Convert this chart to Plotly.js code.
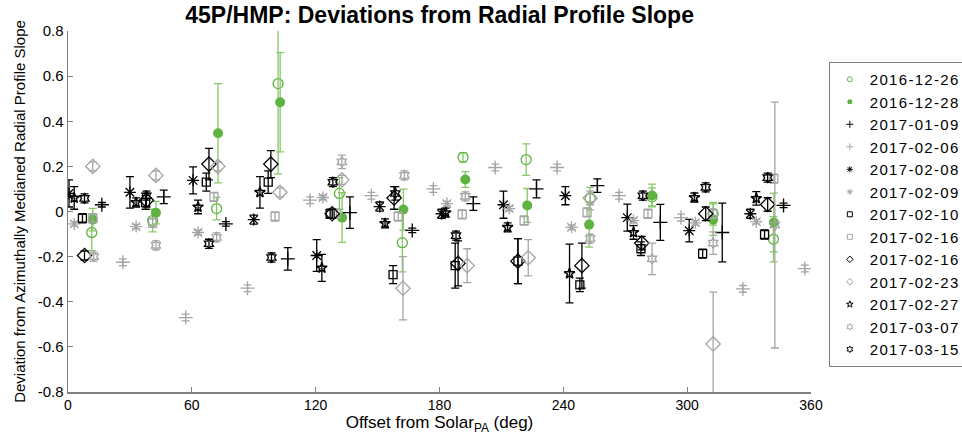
<!DOCTYPE html>
<html><head><meta charset="utf-8">
<script src="https://cdn.plot.ly/plotly-3.0.1.min.js"></script>
<style>html,body{margin:0;padding:0;background:#fff}#plot{width:962px;height:445px}
.legendtext{letter-spacing:1.3px}</style>
</head><body><div id="plot"></div>
<script>
// ---- data ----
const seriesNames = ["2016-12-26","2016-12-28","2017-01-09","2017-02-06","2017-02-08","2017-02-09","2017-02-10","2017-02-16","2017-02-16","2017-02-23","2017-02-27","2017-03-07","2017-03-15"];

const x_1226 = [11.5, 41, 72, 101.8, 131.5, 162, 191.4, 222, 253, 283, 312.6, 341.8];
const y_1226 = [-0.093, -0.04, 0.013, 0.567, 0.08, -0.138, 0.24, 0.23, 0.057, 0.065, -0.01, -0.123];
const e_1226 = [0.08, 0.05, 0.05, 0.40, 0.07, 0.13, 0.02, 0.07, 0.05, 0.04, 0.05, 0.10];

const x_1228 = [12, 42.6, 72.7, 102.8, 132.8, 162.5, 192.5, 222.5, 252.5, 283, 312.6, 342];
const y_1228 = [-0.036, -0.005, 0.347, 0.484, -0.027, 0.009, 0.142, 0.027, -0.058, 0.071, -0.036, -0.049];
const e_1228 = [0.05, 0.05, 0.22, 0.22, 0.11, 0.09, 0.035, 0.075, 0.10, 0.05, 0.07, 0.13];

const x_0109 = [16.4, 46.4, 76.5, 106.5, 136.6, 166.8, 196.4, 227, 256.5, 287, 317, 346.7];
const y_0109 = [0.03, 0.065, -0.055, -0.21, -0.005, -0.084, 0.035, 0.10, 0.115, -0.048, -0.093, 0.027];
const e_0109 = [0.01, 0.03, 0.01, 0.05, 0.07, 0.01, 0.03, 0.04, 0.03, 0.08, 0.13, 0.01];

const x_0206 = [26.6, 57, 87, 117.3, 147, 177, 207, 237, 267, 297, 327, 357];
const y_0206 = [-0.225, -0.47, -0.34, 0.05, 0.07, 0.10, 0.195, 0.195, 0.07, -0.027, -0.343, -0.253];
const e_0206 = [0.015, 0.015, 0.015, 0.015, 0.015, 0.015, 0.015, 0.015, 0.015, 0.015, 0.015, 0.015];

const x_0208 = [0.5, 30, 60.6, 90, 120.5, 151, 181, 211, 241, 271, 301, 330.6];
const y_0208 = [0.08, 0.085, 0.138, -0.036, -0.195, 0.022, -0.01, 0.03, 0.07, -0.027, -0.085, -0.01];
const e_0208 = [0.06, 0.07, 0.06, 0.02, 0.07, 0.02, 0.02, 0.06, 0.04, 0.06, 0.05, 0.02];

const x_0209 = [3, 33, 63, 93, 123.5, 153.5, 183.6, 213.8, 244, 274, 304, 333.5];
const y_0209 = [-0.055, -0.067, -0.093, null, 0.062, null, 0.035, 0.013, -0.07, -0.04, -0.05, -0.045];
const e_0209 = [0.01, 0.01, 0.01, 0.01, 0.01, 0.01, 0.01, 0.01, 0.01, 0.01, 0.01, 0.01];

const x_0210 = [7, 37.6, 67, 97, 127, 157.5, 187.6, 218, 248, 277.6, 307.5, 337.5];
const y_0210 = [-0.03, 0.04, 0.13, 0.13, -0.01, -0.28, -0.24, -0.22, -0.325, -0.165, -0.187, -0.102];
const e_0210 = [0.02, 0.03, 0.04, 0.05, 0.02, 0.04, 0.10, 0.10, 0.03, 0.03, 0.02, 0.02];

const x_0216g = [12, 41, 70.7, 100.3, 130, 160, 191, 221, 251.5, 281, 312.5, 342];
const y_0216g = [-0.03, -0.05, 0.065, -0.022, -0.01, -0.022, -0.013, -0.04, -0.004, -0.01, -0.01, 0.146];
const e_0216g = [0.02, 0.02, 0.02, 0.02, 0.02, 0.02, 0.02, 0.02, 0.02, 0.02, 0.02, 0.02];

const x_0216d = [8, 38, 68.3, 98.3, 128, 158, 189, 218, 249, 278, 309, 339];
const y_0216d = [-0.195, 0.05, 0.21, 0.21, -0.01, 0.06, -0.23, -0.22, -0.24, -0.14, -0.01, 0.031];
const e_0216d = [0.02, 0.03, 0.07, 0.06, 0.02, 0.05, 0.10, 0.10, 0.10, 0.03, 0.03, 0.03];

const x_0223 = [12, 42.6, 72.6, 102.7, 132.7, 162.3, 193.4, 223, 253, 283, 312.6, 342];
const y_0223 = [0.20, 0.16, 0.20, 0.085, 0.14, -0.34, -0.24, -0.205, 0.06, null, -0.587, null];
const e_0223 = [0.02, 0.02, 0.02, 0.02, 0.02, 0.14, 0.075, 0.08, 0.03, 0.02, 0.23, 0.02];

const x_0227 = [3, 33, 63, 93, 123, 153.6, 183, 213, 243, 274, 303.5, 333.5];
const y_0227 = [0.06, 0.04, 0.02, 0.085, -0.25, -0.053, -0.005, -0.07, -0.275, -0.093, 0.062, 0.058];
const e_0227 = [0.05, 0.02, 0.03, 0.07, 0.06, 0.02, 0.02, 0.02, 0.13, 0.03, 0.02, 0.03];

const x_0307 = [12.5, 42.6, 72, 102.7, 132.7, 163, 192.5, 223, 253, 283, 312.6, 342.5];
const y_0307 = [-0.20, -0.15, -0.115, null, 0.22, 0.16, 0.067, null, -0.12, -0.21, -0.14, -0.06];
const e_0307 = [0.02, 0.02, 0.02, 0.02, 0.03, 0.02, 0.02, 0.02, 0.02, 0.07, 0.05, 0.545];

const x_0315 = [8, 38, 68.3, 98.6, 128.3, 158.6, 188, 218, 248, 278.5, 309, 339];
const y_0315 = [0.058, 0.07, -0.143, -0.204, 0.13, 0.08, -0.107, null, null, 0.07, 0.107, 0.15];
const e_0315 = [0.02, 0.02, 0.02, 0.02, 0.02, 0.03, 0.02, 0.02, 0.02, 0.02, 0.02, 0.02];

const xTickVals = [0, 60, 120, 180, 240, 300, 360];
const yTickVals = [-0.8, -0.6, -0.4, -0.2, 0, 0.2, 0.4, 0.6, 0.8];
const yTickText = ["-0.8", "-0.6", "-0.4", "-0.2", "0", "0.2", "0.4", "0.6", "0.8"];

// ---- styles ----
const GREEN = "rgb(95,180,65)", GREEN_BAR = "rgb(135,200,105)";
const BLACK = "rgb(0,0,0)", GRAY = "rgb(165,165,165)";

const specs = [
  [x_1226, y_1226, e_1226, "circle-open", GREEN, GREEN_BAR, 10, 1.3],
  [x_1228, y_1228, e_1228, "circle", GREEN, GREEN_BAR, 10, 0],
  [x_0109, y_0109, e_0109, "cross-thin-open", BLACK, BLACK, 10, 1.3],
  [x_0206, y_0206, e_0206, "cross-thin-open", GRAY, GRAY, 10, 1.3],
  [x_0208, y_0208, e_0208, "asterisk-open", BLACK, BLACK, 10, 1.3],
  [x_0209, y_0209, e_0209, "asterisk-open", GRAY, GRAY, 10, 1.3],
  [x_0210, y_0210, e_0210, "square-open", BLACK, BLACK, 8, 1.3],
  [x_0216g, y_0216g, e_0216g, "square-open", GRAY, GRAY, 8, 1.3],
  [x_0216d, y_0216d, e_0216d, "diamond-open", BLACK, BLACK, 11, 1.3],
  [x_0223, y_0223, e_0223, "diamond-open", GRAY, GRAY, 11, 1.3],
  [x_0227, y_0227, e_0227, "star-open", BLACK, BLACK, 8, 1.5],
  [x_0307, y_0307, e_0307, "hexagram-open", GRAY, GRAY, 8, 1.3],
  [x_0315, y_0315, e_0315, "hexagram-open", BLACK, BLACK, 8, 1.3]
];

const traces = [];
// data traces (no legend entry)
specs.forEach((s, i) => {
  traces.push({
    type: "scatter", mode: "markers", name: seriesNames[i], x: s[0], y: s[1], showlegend: false,
    error_y: {type: "data", array: s[2], visible: true, color: s[5], thickness: 1.3, width: 4},
    marker: {symbol: s[3], size: s[6], color: s[4], line: {color: s[4], width: s[7]}}
  });
});
// legend-only entries with small symbols, as in the reference legend
specs.forEach((s, i) => {
  traces.push({
    type: "scatter", mode: "markers", name: seriesNames[i], x: [null], y: [null], showlegend: true,
    marker: {symbol: s[3], size: 5, color: s[4], line: {color: s[4], width: s[7] ? 1 : 0}}
  });
});

const FONT = "Liberation Sans, Arial, Helvetica, sans-serif";
const layout = {
  width: 962, height: 445,
  margin: {l: 68, r: 151, t: 31, b: 53, autoexpand: false},
  paper_bgcolor: "#fff", plot_bgcolor: "#fff",
  font: {family: FONT, color: "#000", size: 14},
  title: {text: "<b>45P/HMP: Deviations from Radial Profile Slope</b>", font: {family: FONT, size: 23, color: "#000"},
          x: 0.457, xanchor: "center", y: 0.966, yanchor: "middle"},
  xaxis: {range: [0, 360], tickvals: xTickVals, ticks: "inside", ticklen: 5, tickcolor: "#808080",
          showline: true, linecolor: "#808080", linewidth: 1.5, showgrid: false, zeroline: false,
          tickfont: {size: 14}, mirror: false,
          title: {text: "Offset from Solar<sub>PA</sub> (deg)", font: {size: 17}, standoff: 4}},
  yaxis: {range: [-0.8, 0.8], tickvals: yTickVals, ticktext: yTickText, ticks: "inside", ticklen: 5, tickcolor: "#808080",
          showline: true, linecolor: "#808080", linewidth: 1.5, showgrid: false, zeroline: false,
          tickfont: {size: 15},
          title: {text: "Deviation from Azimuthally Medianed Radial Profile Slope", font: {size: 15}, standoff: 8}},
  legend: {x: 1.024, xanchor: "left", y: 0.914, yanchor: "top", bordercolor: "#808080", borderwidth: 1,
           bgcolor: "#fff", font: {size: 15, family: FONT}, tracegroupgap: 0, itemsizing: "trace"},
  showlegend: true
};

Plotly.newPlot("plot", traces, layout, {displayModeBar: false, staticPlot: true});
</script>
</body></html>
